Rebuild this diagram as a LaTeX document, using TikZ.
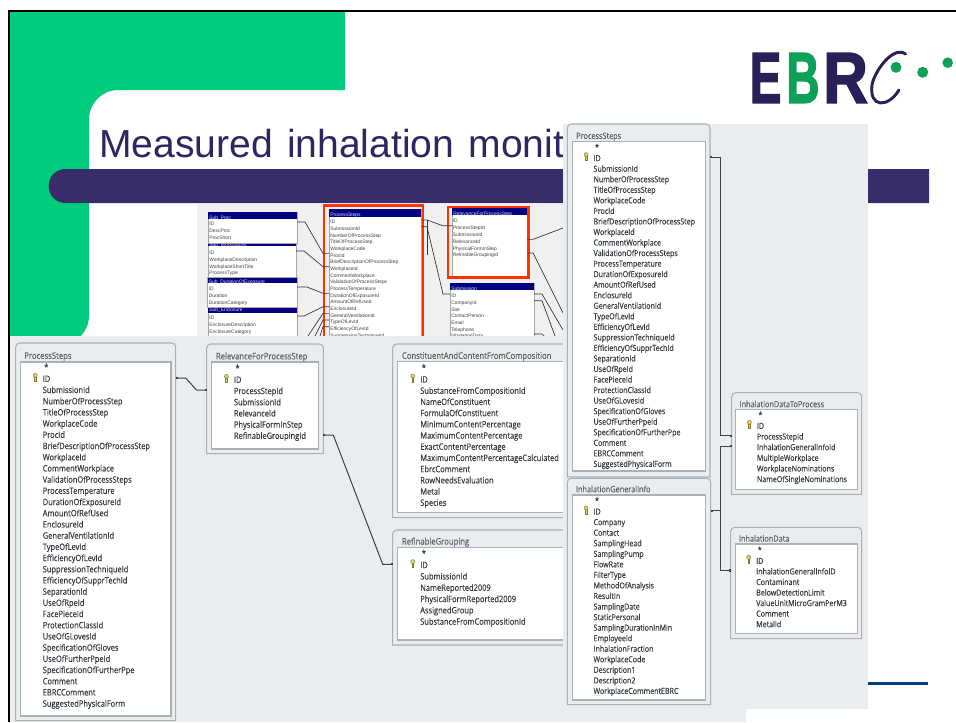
\documentclass[tikz,border=0pt]{standalone}
\usepackage{fontspec}
\usepackage{graphicx}
\setmainfont{Liberation Sans}
\newfontfamily\tabfont[FakeStretch=0.85,FakeBold=0.1]{Open Sans}
\newfontfamily\logofont[BoldFeatures={FakeBold=2.2}]{Liberation Sans}
\usetikzlibrary{fit,calc,arrows.meta}
\definecolor{framegreen}{HTML}{00CC7E}
\definecolor{titlenavy}{HTML}{2E2660}
\definecolor{barnavy}{HTML}{392D69}
\definecolor{oldbg}{HTML}{F0F0F0}
\definecolor{panelgray}{HTML}{E9EDF0}
\definecolor{edgegray}{HTML}{A9B1B7}
\definecolor{rowink}{HTML}{33383D}
\definecolor{titleink}{HTML}{5A6066}
\definecolor{hdrnavy}{HTML}{000080}
\definecolor{redbox}{HTML}{FF3300}
\definecolor{logonavy}{HTML}{2A2058}
\definecolor{logogreen}{HTML}{0E9F58}
\definecolor{keygold}{HTML}{E6D26A}
\definecolor{keyedge}{HTML}{8A7A30}
\definecolor{rulenavy}{HTML}{003A80}
\newcommand{\tabtitlesize}{6.8}
\tikzset{
  x=0.75pt,y=-0.75pt,
  box/.style={inner sep=0pt,outer sep=0pt},
  outerframe/.style={draw=edgegray,fill=panelgray,line width=0.8pt},
  innerframe/.style={draw=edgegray,fill=white,line width=0.8pt},
  tabtitle/.style={inner sep=0pt,anchor=west,text=titleink,font=\tabfont\fontsize{\tabtitlesize}{7}\selectfont,text height=1.4ex,text depth=.3ex},
  rowtxt/.style={inner sep=0pt,anchor=west,text=rowink,text height=1.4ex,text depth=.3ex},
  conn/.style={draw=black!75,line width=0.75pt,{Rectangle[length=1.6pt,width=1.7pt]}-{Rectangle[length=1.6pt,width=1.7pt]}},
  oldconn/.style={draw=black!80,line width=0.5pt},
  oldrow/.style={inner sep=0pt,anchor=west,text=black!75,font=\fontsize{3.7}{4}\selectfont,text height=1.4ex,text depth=.3ex},
  oldhdr/.style={inner sep=0pt,anchor=west,text=white!85!blue,font=\fontsize{3.7}{4}\selectfont,text height=1.4ex,text depth=.3ex},
  redframe/.style={draw=redbox,line width=1.6pt},
  logoletter/.style={inner sep=0pt,anchor=base west,font=\logofont\bfseries\fontsize{54}{54}\selectfont},
  keyicon/.pic={
    \draw[fill=keygold,draw=keyedge,line width=0.35pt] (-0.9,-0.5) rectangle (0.9,3.6);
    \draw[fill=keygold,draw=keyedge,line width=0.35pt] (0,-2.2) circle[radius=2];
  }
}
% big table: frame
\newcommand{\dbframe}[8]{%
  \node[box,fit={(#2,#3)(#4,#5)}] (#1) {};
  \draw[outerframe] (#1.south west) [rounded corners=3pt] -- (#1.north west) -- (#1.north east) [sharp corners] -- (#1.south east) -- cycle;
  \node[box,fit={#6}] (#1-in) {};
  \draw[innerframe] (#1-in.south west) rectangle (#1-in.north east);
  \node[tabtitle] (#1-title) at #7 {#8};
}
% big table: rows; #2 x, #3 y of ID, #4 spacing, #5 size, #6 rows
\newcommand{\dbrows}[6]{%
  \pgfmathsetmacro\starx{#2+1.5}
  \pgfmathsetmacro\stary{#3-#4-0.5}
  \pgfmathsetmacro\keyx{#2-7.3}
  \pgfmathsetmacro\keyy{#3-0.5}
  \node[rowtxt,font=\tabfont\fontsize{#5}{7}\selectfont] (#1-star) at (\starx,\stary) {*};
  \pic at (\keyx,\keyy) {keyicon};
  \foreach \t [count=\i] in {#6}{
    \pgfmathsetmacro\yy{#3+(\i-1)*#4}
    \node[rowtxt,font=\tabfont\fontsize{#5}{7}\selectfont] (#1-\i) at (#2,\yy) {\t};
  }
}
% old small table
\newcommand{\smallframe}[7]{%
  \node[box,fit={(#2,#3)(#4,#6)}] (#1) {};
  \draw[draw=black!35,fill=white,line width=0.4pt] (#1.south west) rectangle (#1.north east);
  \fill[hdrnavy] (#2,#3) rectangle (#4,#5);
  \pgfmathsetmacro\hx{#2+1}
  \pgfmathsetmacro\hy{(#3+#5)/2}
  \node[oldhdr] (#1-title) at (\hx,\hy) {#7};
}
\newcommand{\smallrows}[5]{%
  \foreach \t [count=\i] in {#5}{
    \pgfmathsetmacro\yy{#3+(\i-1)*#4}
    \node[oldrow] (#1-\i) at (#2,\yy) {\t};
  }
}
\begin{document}
\begin{tikzpicture}
\useasboundingbox (0,0) rectangle (956,722);
\fill[white] (0,0) rectangle (956,722);
% slide background
\fill[framegreen] (10,12) -- (345,12) -- (345,90) [rounded corners=22pt] -- (89,90) -- (89,345) [sharp corners] -- (10,345) -- cycle;
\node[inner sep=0pt,anchor=base west,text=titlenavy,font=\fontsize{29.3}{30}\selectfont] (slidetitle) at (99,157.5) {Measured\hspace{2.5pt} inhalation\hspace{2.5pt} monit};
\fill[barnavy] (929,169) [rounded corners=12.5pt] -- (48.7,169) -- (48.7,203) [sharp corners] -- (929,203) -- cycle;
\fill[rulenavy] (800,682) rectangle (928,685);
% logo
\node[logoletter,text=logonavy] (logoE) at (749.5,102.7) {\scalebox{0.66}[1]{E}};
\node[logoletter,text=logogreen] (logoB) at (786,102.7) {\scalebox{0.64}[1]{B}};
\node[logoletter,text=logonavy] (logoR) at (823,102.7) {\scalebox{0.86}[1]{R}};
\draw[logonavy,line width=2.2pt,line cap=round] (905.5,54) .. controls (893,45) and (874,72) .. (872,85) .. controls (869,108) and (888,108) .. (899,90);
\fill[logogreen] (896,67.3) circle[radius=5.5];
\fill[logogreen] (922.7,72.3) circle[radius=5.5];
\fill[logogreen] (947.7,62.7) circle[radius=5.3];
% black frame
\fill[black] (8,10) rectangle (956,12.3);
\fill[black] (8,10) rectangle (10,722);
% old diagram
\fill[oldbg] (197,204) rectangle (600,345);
\smallframe{se}{208}{302}{297}{313}{345}{Sub\_Enclosure}
\smallrows{se}{209}{316}{7}{ID,EnclosureDescription,EnclosureCategory}
\smallframe{sd}{207.5}{277}{297}{283}{307}{Sub\_DurationOfExposure}
\smallrows{sd}{208.5}{287}{7}{ID,Duration,DurationCategory}
\smallframe{sw}{208}{240}{296}{246}{277}{Sub\_Workplaces}
\smallrows{sw}{209}{251}{6.7}{ID,WorkplaceDescription,WorkplaceShortTitle,ProcessType}
\smallframe{sp}{208}{212}{297}{219}{243}{Sub\_Proc}
\smallrows{sp}{209}{222}{7}{ID,DescProc,ProcShort}
\node[box,fit={(324,205.5)(423,345)}] (redps) {};
\smallframe{ops}{329}{209}{421}{217}{345}{ProcessSteps}
\smallrows{ops}{330}{220}{6.67}{ID,SubmissionId,NumberOfProcessStep,TitleOfProcessStep,WorkplaceCode,ProcId,BriefDescriptionOfProcessStep,WorkplaceId,CommentWorkplace,ValidationOfProcessSteps,ProcessTemperature,DurationOfExposureId,AmountOfRefUsed,EnclosureId,GeneralVentilationId,TypeOfLevId,EfficiencyOfLevId,SuppressionTechniqueId}
\node[box,fit={(448,207)(528.5,277.5)}] (redrf) {};
\smallframe{orf}{452}{208}{527}{215}{276}{RelevanceForProcessStep}
\smallrows{orf}{452.5}{219}{6.8}{ID,ProcessStepId,SubmissionId,RelevanceId,PhysicalFormInStep,RefinableGroupingId}
\smallframe{osu}{450}{283}{534}{290}{345}{Submission}
\smallrows{osu}{451}{294}{6.67}{ID,CompanyId,Site,ContactPerson,Email,Telephone,InhalationData}
\draw[redframe] (redps.south west) -- (redps.north west) -- (redps.north east) -- (redps.south east);
\draw[redframe] (redrf.south west) rectangle (redrf.north east);
\coordinate (oldR1) at (563,228);
\coordinate (oldR2) at (563,313);
\coordinate (oldR3) at (563,330);
\coordinate (oldR4) at (555,336);
\coordinate (oldL1) at (308,336);
\coordinate (oldL2) at (315,336);
\coordinate (oldL3) at (320,336);
\draw[oldconn] (sp.east |- sp-1) -- ++(8,0) -- ($(ops.west |- ops-6)+(-6,0)$) -- (ops.west |- ops-6);
\draw[oldconn] (sw.east |- sw-1) -- ++(8,0) -- ($(ops.west |- ops-8)+(-6,0)$) -- (ops.west |- ops-8);
\draw[oldconn] (sd.east |- sd-1) -- ++(10,0) -- ($(ops.west |- ops-12)+(-6,0)$) -- (ops.west |- ops-12);
\draw[oldconn] (se.east |- se-1) -- ++(7,0) -- ($(ops.west |- ops-14)+(-6,0)$) -- (ops.west |- ops-14);
\draw[oldconn] (oldL1) -- ($(ops.west |- ops-15)+(-6,0)$) -- (ops.west |- ops-15);
\draw[oldconn] (oldL2) -- ($(ops.west |- ops-16)+(-6,0)$) -- (ops.west |- ops-16);
\draw[oldconn] (oldL3) -- ($(ops.west |- ops-17)+(-6,0)$) -- (ops.west |- ops-17);
\draw[oldconn] (ops.east |- ops-1) -- ++(6,0) -- ($(orf.west |- orf-2)+(-9,0)$) -- (orf.west |- orf-2);
\draw[oldconn] (ops.east |- ops-2) -- ++(6,0) -- ($(osu.west |- osu-1)+(-7,0)$) -- (osu.west |- osu-1);
\draw[oldconn] (ops.east |- ops-1) ++(6,0) -- ++(0,35);
\draw[oldconn] (orf.east |- orf-4) -- ++(6,0) -- (oldR1);
\draw[oldconn] (orf.east |- orf-6) -- ++(6,0) -- (oldR2);
\draw[oldconn] (osu.east |- osu-1) -- ++(8,0) -- (oldR3);
\draw[oldconn] (osu.east |- osu-2) -- ++(8,0) -- (oldR4);
\draw[oldconn] (osu.east |- osu-7) -- ++(8,0) -- ++(3,3);
% left panel
\fill[panelgray] (10,336) rectangle (746,722);
\dbframe{ls}{15.7}{343}{175.7}{720.7}{(20.7,362)(171,716)}{(24,355)}{ProcessSteps}
\dbrows{ls}{42.5}{378}{11.2}{6.6}{ID,SubmissionId,NumberOfProcessStep,TitleOfProcessStep,WorkplaceCode,ProcId,BriefDescriptionOfProcessStep,WorkplaceId,CommentWorkplace,ValidationOfProcessSteps,ProcessTemperature,DurationOfExposureId,AmountOfRefUsed,EnclosureId,GeneralVentilationId,TypeOfLevId,EfficiencyOfLevId,SuppressionTechniqueId,EfficiencyOfSupprTechId,SeparationId,UseOfRpeId,FacePieceId,ProtectionClassId,UseOfGLovesId,SpecificationOfGloves,UseOfFurtherPpeId,SpecificationOfFurtherPpe,Comment,EBRCComment,SuggestedPhysicalForm}
\dbframe{rf}{206.7}{344}{323.3}{453.7}{(211.7,362)(318.3,449)}{(215.7,355.5)}{RelevanceForProcessStep}
\dbrows{rf}{233.7}{379}{11.2}{6.6}{ID,ProcessStepId,SubmissionId,RelevanceId,PhysicalFormInStep,RefinableGroupingId}
\dbframe{cc}{392.7}{344}{600}{517.7}{(397.7,361.7)(600,512.7)}{(401.7,355)}{ConstituentAndContentFromComposition}
\dbrows{cc}{420}{378.7}{11.2}{6.6}{ID,SubstanceFromCompositionId,NameOfConstituent,FormulaOfConstituent,MinimumContentPercentage,MaximumContentPercentage,ExactContentPercentage,MaximumContentPercentageCalculated,EbrcComment,RowNeedsEvaluation,Metal,Species}
\dbframe{rg}{392.7}{530}{600}{645}{(397.7,547.3)(600,640)}{(401.7,540.7)}{RefinableGrouping}
\dbrows{rg}{420}{564.3}{11.3}{6.6}{ID,SubmissionId,NameReported2009,PhysicalFormReported2009,AssignedGroup,SubstanceFromCompositionId}
\draw[conn] (ls.east |- ls-1) -- ++(10,0) -- ($(rf.west |- rf-2)+(-10,0)$) -- (rf.west |- rf-2);
\draw[conn] (rf.east |- rf-6) -- ++(10,0) -- ($(rg.west |- rg-1)+(-10,0)$) -- (rg.west |- rg-1);
% right panel
\renewcommand{\tabtitlesize}{6.45}
\fill[panelgray] (563,124) rectangle (868,709);
\dbframe{rs}{567.3}{124}{710}{477}{(572.7,141.7)(705.3,471)}{(576,135)}{ProcessSteps}
\dbrows{rs}{593.3}{157.3}{10.54}{6.25}{ID,SubmissionId,NumberOfProcessStep,TitleOfProcessStep,WorkplaceCode,ProcId,BriefDescriptionOfProcessStep,WorkplaceId,CommentWorkplace,ValidationOfProcessSteps,ProcessTemperature,DurationOfExposureId,AmountOfRefUsed,EnclosureId,GeneralVentilationId,TypeOfLevId,EfficiencyOfLevId,SuppressionTechniqueId,EfficiencyOfSupprTechId,SeparationId,UseOfRpeId,FacePieceId,ProtectionClassId,UseOfGLovesId,SpecificationOfGloves,UseOfFurtherPpeId,SpecificationOfFurtherPpe,Comment,EBRCComment,SuggestedPhysicalForm}
\dbframe{ig}{567.3}{478.3}{710.7}{704.7}{(572.7,495)(705.7,700)}{(575.7,488.3)}{InhalationGeneralInfo}
\dbrows{ig}{593.3}{510.7}{10.55}{6.25}{ID,Company,Contact,SamplingHead,SamplingPump,FlowRate,FilterType,MethodOfAnalysis,ResultIn,SamplingDate,StaticPersonal,SamplingDurationInMin,EmployeeId,InhalationFraction,WorkplaceCode,Description1,Description2,WorkplaceCommentEBRC}
\dbframe{dp}{731.7}{392.7}{861.7}{494.3}{(735.7,409.3)(857.7,489.3)}{(739.3,403.3)}{InhalationDataToProcess}
\dbrows{dp}{756.7}{425}{10.65}{6.25}{ID,ProcessStepId,InhalationGeneralInfoId,MultipleWorkplace,WorkplaceNominations,NameOfSingleNominations}
\dbframe{id}{730.7}{527.3}{861.7}{638.7}{(735.7,544)(857.7,633.3)}{(738.7,537.7)}{InhalationData}
\dbrows{id}{756}{560}{10.55}{6.25}{ID,InhalationGeneralInfoID,Contaminant,BelowDetectionLimit,ValueUnitMicroGramPerM3,Comment,MetalId}
\draw[conn] (rs.east |- rs-1) -| ($(dp.west |- dp-2)+(-11,0)$) -- (dp.west |- dp-2);
\draw[conn] (ig.east |- ig-1) -| ($(dp.west |- dp-3)+(-11,0)$) -- (dp.west |- dp-3);
\draw[conn] (ig.east |- ig-1) -| ($(id.west |- id-2)+(-10,0)$) -- (id.west |- id-2);
\end{tikzpicture}
\end{document}
